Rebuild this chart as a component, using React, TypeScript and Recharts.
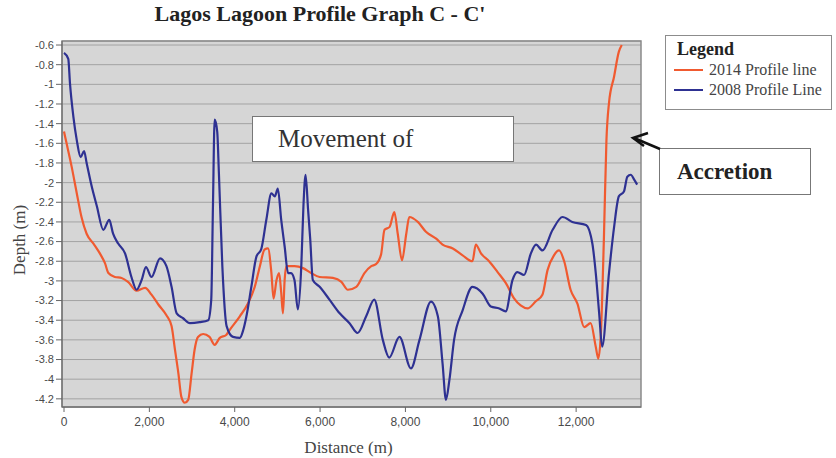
import React from 'react';
import { LineChart, Line, XAxis, YAxis, CartesianGrid, Legend, ReferenceArea } from 'recharts';

// 2014 profile (red)
const dist2014 = [
  0, 60, 180, 300, 410, 530, 690, 840, 960, 1040, 1190, 1350, 1500, 1700, 1900, 2050, 2210, 2400, 2520, 2600,
  2680, 2750, 2830, 2910, 2990, 3060, 3140, 3260, 3410, 3530, 3650, 3800, 3880, 4120, 4310, 4470, 4590, 4700, 4780, 4860,
  4910, 4980, 5040, 5090, 5130, 5170, 5210, 5400, 5600, 5790, 5990, 6300, 6500, 6650, 6850, 7040, 7200, 7310, 7430, 7510,
  7630, 7740, 7820, 7920, 8020, 8090, 8290, 8480, 8720, 8870, 9110, 9340, 9570, 9650, 9770, 9960, 10160, 10350, 10550, 10700,
  10860, 11050, 11210, 11330, 11480, 11600, 11720, 11870, 12030, 12190, 12340, 12460, 12520, 12580, 12650, 12710, 12770, 12890, 13000, 13070,
];
const depth2014 = [
  -1.48, -1.6, -1.84, -2.11, -2.35, -2.52, -2.62, -2.72, -2.82, -2.92, -2.96, -2.97, -3.01, -3.1, -3.07, -3.14, -3.24, -3.35, -3.46, -3.7,
  -3.94, -4.18, -4.24, -4.21, -3.94, -3.7, -3.57, -3.54, -3.57, -3.65, -3.58, -3.55, -3.5, -3.36, -3.23, -3.06, -2.85, -2.68, -2.67, -2.92,
  -3.18, -2.99, -2.92, -3.12, -3.33, -2.99, -2.85, -2.85, -2.87, -2.92, -2.96, -2.97, -3.01, -3.09, -3.06, -2.92, -2.85, -2.83, -2.73, -2.48,
  -2.45, -2.3, -2.52, -2.79, -2.52, -2.35, -2.4, -2.5, -2.57, -2.63, -2.67, -2.74, -2.8, -2.63, -2.72, -2.8, -2.91, -3.02, -3.18, -3.25,
  -3.28, -3.21, -3.14, -2.89, -2.74, -2.69, -2.8, -3.09, -3.23, -3.47, -3.43, -3.67, -3.79, -3.53, -2.58, -1.57, -1.19, -0.92, -0.67, -0.6,
];

// 2008 profile (blue)
const dist2008 = [
  0, 100, 140, 220, 300, 390, 470, 530, 650, 770, 920, 1060, 1150, 1270, 1430, 1580, 1700, 1820, 1920, 2050,
  2250, 2400, 2520, 2640, 2790, 2950, 3180, 3380, 3450, 3490, 3530, 3590, 3630, 3710, 3810, 3960, 4120, 4200, 4270, 4390,
  4510, 4620, 4740, 4860, 4940, 5010, 5090, 5170, 5250, 5320, 5400, 5480, 5560, 5610, 5660, 5720, 5770, 5830, 5990, 6220,
  6460, 6690, 6880, 7080, 7270, 7470, 7620, 7860, 8130, 8330, 8600, 8760, 8870, 8950, 9030, 9140, 9340, 9570, 9810, 10000,
  10200, 10350, 10510, 10620, 10780, 10940, 11060, 11210, 11450, 11680, 11910, 12230, 12380, 12460, 12540, 12610, 12770, 12890, 13000, 13120,
  13200, 13280, 13360, 13430,
];
const depth2008 = [
  -0.68, -0.74, -0.99, -1.33, -1.57, -1.74, -1.68, -1.8, -2.04, -2.24, -2.48, -2.38, -2.52, -2.62, -2.72, -2.96, -3.09, -2.99, -2.86, -2.96,
  -2.77, -2.85, -3.06, -3.33, -3.38, -3.43, -3.42, -3.4, -3.19, -2.24, -1.36, -1.48, -1.91, -2.85, -3.46, -3.57, -3.58, -3.5, -3.37, -3.06,
  -2.75, -2.68, -2.38, -2.11, -2.14, -2.06, -2.38, -2.65, -2.92, -2.92, -2.99, -3.29, -2.85, -2.24, -1.92, -2.28, -2.58, -2.99, -3.06, -3.19,
  -3.33, -3.43, -3.53, -3.36, -3.19, -3.6, -3.78, -3.57, -3.89, -3.6, -3.21, -3.36, -3.84, -4.21, -4.01, -3.6, -3.3, -3.06, -3.13, -3.26,
  -3.28, -3.31, -2.99, -2.91, -2.94, -2.72, -2.63, -2.69, -2.48, -2.35, -2.4, -2.43, -2.62, -2.92, -3.33, -3.67, -2.92, -2.45, -2.14, -2.09,
  -1.94, -1.92, -1.97, -2.02,
];

const xTicks = [0, 2000, 4000, 6000, 8000, 10000, 12000];
const yTicks = [-4.2, -4, -3.8, -3.6, -3.4, -3.2, -3, -2.8, -2.6, -2.4, -2.2, -2, -1.8, -1.6, -1.4, -1.2, -1, -0.8, -0.6];

const X_DOMAIN: [number, number] = [-47, 13520];
const Y_DOMAIN: [number, number] = [-4.283, -0.559];

const line2014 = dist2014.map((d, i) => ({ distance: d, depth: depth2014[i] }));
const line2008 = dist2008.map((d, i) => ({ distance: d, depth: depth2008[i] }));

const serif = '"Liberation Serif", "Times New Roman", serif';
const axisFont = { fontFamily: '"Liberation Sans", Arial, sans-serif', fill: '#4a4a4a' };

const renderLegend = (props: any) => {
  // newest profile first, as in the original figure
  const items = [...(props.payload || [])].sort((a: any, b: any) => String(b.value).localeCompare(String(a.value)));
  return (
    <div
      style={{
        border: '1px solid #8c8c8c',
        background: '#fff',
        fontFamily: serif,
        padding: '3px 0 4px 8px',
        boxSizing: 'border-box',
        width: 167,
        height: 75,
      }}
    >
      <div style={{ fontWeight: 'bold', fontSize: 18, color: '#222', lineHeight: '21px', marginLeft: 3 }}>Legend</div>
      {items.map((entry: any) => (
        <div key={entry.value} style={{ display: 'flex', alignItems: 'center', height: 20 }}>
          <span style={{ display: 'inline-block', width: 29, height: 2, background: entry.color, marginRight: 6 }} />
          <span style={{ fontSize: 16, color: '#444' }}>{entry.value}</span>
        </div>
      ))}
    </div>
  );
};

export default function App() {
  return (
    <div style={{ position: 'absolute', left: 0, top: 0, width: 836, height: 458, background: '#fff', overflow: 'hidden' }}>
      <div
        style={{
          position: 'absolute',
          left: 0,
          width: 640,
          top: 1,
          textAlign: 'center',
          fontFamily: serif,
          fontWeight: 'bold',
          fontSize: 22,
          color: '#222',
        }}
      >
        Lagos Lagoon Profile Graph C - C'
      </div>

      <LineChart width={836} height={458} margin={{ top: 41, right: 195, bottom: 0, left: 0 }}>
        <CartesianGrid vertical={false} stroke="#a3a3a3" fill="#d6d6d6" fillOpacity={1} />
        <ReferenceArea
          x1={X_DOMAIN[0]}
          x2={X_DOMAIN[1]}
          y1={Y_DOMAIN[0]}
          y2={Y_DOMAIN[1]}
          fill="none"
          stroke="#8a8a8a"
          strokeWidth={1.5}
        />
        <XAxis
          type="number"
          dataKey="distance"
          domain={X_DOMAIN}
          allowDataOverflow
          ticks={xTicks}
          interval={0}
          tickFormatter={(v: number) => v.toLocaleString('en-US')}
          height={51}
          tickSize={5}
          tickMargin={5}
          stroke="#666"
          tick={{ ...axisFont, fontSize: 12 }}
          label={({ viewBox }: any) => (
            <text
              x={viewBox.x + viewBox.width / 2 - 3}
              y={viewBox.y + 46}
              textAnchor="middle"
              fontFamily={serif}
              fontSize={17}
              fill="#444"
            >
              Distance (m)
            </text>
          )}
        />
        <YAxis
          type="number"
          dataKey="depth"
          domain={Y_DOMAIN}
          allowDataOverflow
          ticks={yTicks}
          interval={0}
          tickFormatter={(v: number) => String(Math.round(v * 10) / 10)}
          width={62}
          tickSize={6}
          tickMargin={2}
          stroke="#666"
          tick={{ ...axisFont, fontSize: 11 }}
          label={({ viewBox }: any) => {
            const cx = viewBox.x + 19;
            const cy = viewBox.y + viewBox.height / 2 + 16;
            return (
              <text
                x={cx}
                y={cy}
                transform={`rotate(-90, ${cx}, ${cy})`}
                textAnchor="middle"
                dominantBaseline="central"
                fontFamily={serif}
                fontSize={17}
                fill="#444"
              >
                Depth (m)
              </text>
            );
          }}
        />
        <Legend
          layout="horizontal"
          verticalAlign="middle"
          align="center"
          wrapperStyle={{ left: 665, top: 35, width: 167, height: 75 }}
          content={renderLegend}
        />
        <Line
          data={line2014}
          dataKey="depth"
          name="2014 Profile line"
          type="monotone"
          stroke="#f05a30"
          strokeWidth={2.2}
          dot={false}
          isAnimationActive={false}
        />
        <Line
          data={line2008}
          dataKey="depth"
          name="2008 Profile Line"
          type="monotone"
          stroke="#2e3192"
          strokeWidth={2.2}
          dot={false}
          isAnimationActive={false}
        />
      </LineChart>

      {/* annotation boxes */}
      <div
        style={{
          position: 'absolute',
          left: 252,
          top: 116,
          width: 262,
          height: 46,
          boxSizing: 'border-box',
          border: '1.5px solid #777',
          background: '#fff',
          fontFamily: serif,
          fontSize: 25,
          color: '#333',
          paddingLeft: 25,
          lineHeight: '44px',
        }}
      >
        Movement of
      </div>
      <div
        style={{
          position: 'absolute',
          left: 659,
          top: 148,
          width: 152,
          height: 47,
          boxSizing: 'border-box',
          border: '1.5px solid #777',
          background: '#fff',
          fontFamily: serif,
          fontWeight: 'bold',
          fontSize: 23,
          color: '#222',
          paddingLeft: 17,
          lineHeight: '45px',
        }}
      >
        Accretion
      </div>
      <svg width={836} height={458} style={{ position: 'absolute', left: 0, top: 0, pointerEvents: 'none' }}>
        <line x1={660} y1={149} x2={634} y2={138} stroke="#111" strokeWidth={2.5} />
        <polyline points="648,133 633,138 644,146" fill="none" stroke="#111" strokeWidth={2.5} />
      </svg>
    </div>
  );
}
